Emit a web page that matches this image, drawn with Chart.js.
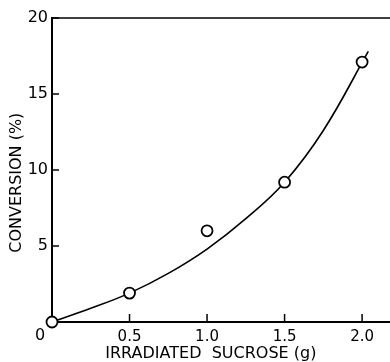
<!DOCTYPE html>
<html>
<head>
<meta charset="utf-8">
<script src="https://cdn.jsdelivr.net/npm/chart.js@4.4.1/dist/chart.umd.min.js"></script>
<style>
  html, body { margin: 0; padding: 0; background: #fff; overflow: hidden; }
  #wrap { width: 390px; height: 362px; }
</style>
</head>
<body>
<div id="wrap"><canvas id="conv"></canvas></div>
<script>
// measured points
const sucrose = [0, 0.5, 1.0, 1.5, 2.0];
const conversion = [0, 1.9, 6.0, 9.2, 17.1];

// hand-drawn fit curve
const curveX = [0, 0.25, 0.5, 0.75, 1.0, 1.25, 1.5, 1.75, 2.04];
const curveY = [0, 0.9, 1.9, 3.2, 4.8, 6.8, 9.2, 12.6, 17.8];

const xTicks = [0.5, 1.0, 1.5, 2.0];
const yTicks = [5, 10, 15, 20];

const FONT = "'DejaVu Sans', sans-serif";

// inward tick marks, top frame line and the shared "0" at the origin
const framePlugin = {
  id: "frame",
  afterDraw(chart) {
    const { ctx, chartArea, scales } = chart;
    const x = scales.x, y = scales.y;
    ctx.save();
    ctx.strokeStyle = "#000";
    ctx.lineWidth = 1.5;
    ctx.beginPath();
    ctx.moveTo(chartArea.left, chartArea.top);
    ctx.lineTo(chartArea.right, chartArea.top);
    ctx.stroke();
    xTicks.forEach((v) => {
      const px = x.getPixelForValue(v);
      ctx.beginPath();
      ctx.moveTo(px, chartArea.bottom);
      ctx.lineTo(px, chartArea.bottom - 8);
      ctx.stroke();
    });
    yTicks.forEach((v) => {
      const py = y.getPixelForValue(v);
      ctx.beginPath();
      ctx.moveTo(chartArea.left, py);
      ctx.lineTo(chartArea.left + 7, py);
      ctx.stroke();
    });
    ctx.fillStyle = "#000";
    ctx.font = "16px " + FONT;
    ctx.textAlign = "center";
    ctx.textBaseline = "middle";
    ctx.fillText("0", x.getPixelForValue(0) - 12, y.getPixelForValue(0) + 14);
    ctx.restore();
  },
};

const ctx = document.getElementById("conv");

new Chart(ctx, {
  type: "scatter",
  data: {
    datasets: [
      {
        label: "fit",
        data: curveX.map((v, i) => ({ x: v, y: curveY[i] })),
        showLine: true,
        borderColor: "#000",
        borderWidth: 1.6,
        pointRadius: 0,
        tension: 0.4,
        clip: false,
        order: 2,
      },
      {
        label: "conversion",
        data: sucrose.map((v, i) => ({ x: v, y: conversion[i] })),
        showLine: false,
        pointRadius: 5.5,
        pointBorderWidth: 1.8,
        pointBorderColor: "#000",
        pointBackgroundColor: "#fff",
        clip: false,
        order: 1,
      },
    ],
  },
  options: {
    responsive: true,
    maintainAspectRatio: false,
    animation: false,
    layout: { autoPadding: false, padding: { top: 18, right: 0, left: 0, bottom: 0 } },
    plugins: {
      legend: { display: false },
      tooltip: { enabled: false },
    },
    scales: {
      x: {
        type: "linear",
        min: 0,
        max: 2.18,
        afterBuildTicks: (s) => { s.ticks = xTicks.map((v) => ({ value: v })); },
        afterFit: (s) => { s.height = 40; s.paddingRight = 0; s.paddingLeft = 0; },
        grid: { display: true, drawOnChartArea: false, drawTicks: false },
        border: { color: "#000", width: 2 },
        ticks: {
          color: "#000",
          padding: 6,
          maxRotation: 0,
          font: { family: FONT, size: 15 },
          callback: (v) => Number(v).toFixed(1),
        },
        title: {
          display: true,
          // trailing spaces nudge the centred title left, as in the original
          text: "IRRADIATED  SUCROSE (g)    ",
          color: "#000",
          padding: { top: 0, bottom: 0 },
          font: { family: FONT, size: 16, lineHeight: 1 },
        },
      },
      y: {
        type: "linear",
        min: 0,
        max: 20,
        afterBuildTicks: (s) => { s.ticks = yTicks.map((v) => ({ value: v })); },
        afterFit: (s) => { s.width = 52; },
        grid: { display: true, drawOnChartArea: false, drawTicks: false },
        border: { color: "#000", width: 2 },
        ticks: {
          color: "#000",
          padding: 4,
          font: { family: FONT, size: 16 },
        },
        title: {
          display: true,
          text: "CONVERSION (%)     ",
          color: "#000",
          padding: { top: 7, bottom: 0 },
          font: { family: FONT, size: 16 },
        },
      },
    },
  },
  plugins: [framePlugin],
});
</script>
</body>
</html>
